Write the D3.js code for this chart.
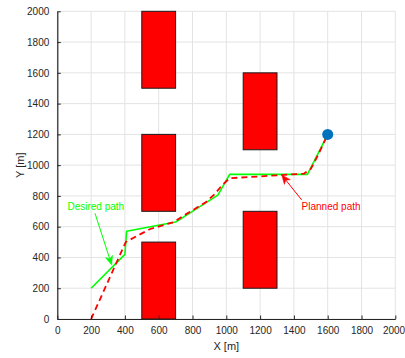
<!DOCTYPE html>
<html>
<head>
<meta charset="utf-8">
<script src="https://cdn.jsdelivr.net/npm/d3@7"></script>
<style>
  html, body { margin: 0; padding: 0; background: #ffffff; }
  svg { display: block; }
  text { font-family: "Liberation Sans", Arial, Helvetica, sans-serif; }
</style>
</head>
<body>
<script>
// Tick values for both axes
const xTicks = [0, 200, 400, 600, 800, 1000, 1200, 1400, 1600, 1800, 2000];
const yTicks = [0, 200, 400, 600, 800, 1000, 1200, 1400, 1600, 1800, 2000];

// Rectangular obstacles: [xMin, xMax, yMin, yMax] in metres
const obstacles = [
  [500, 700, 1500, 2000],
  [500, 700, 700, 1200],
  [500, 700, 0, 500],
  [1100, 1300, 1100, 1600],
  [1100, 1300, 200, 700]
];

// Desired path (green, solid)
const desiredX = [200, 400, 410, 700, 950, 1020, 1480, 1545, 1600];
const desiredY = [200, 420, 570, 630, 805, 940, 940, 1080, 1200];

// Planned path (red, dashed)
const plannedX = [200, 405, 480, 550, 690, 760, 880, 930, 975, 1020, 1320, 1460, 1500, 1545, 1600];
const plannedY = [0, 500, 545, 585, 630, 680, 760, 810, 870, 915, 935, 945, 975, 1070, 1200];

// Goal point
const goal = [1600, 1200];

// Annotations: label, label anchor, arrow tail, arrow tip (metres)
const annoLabels = ["Desired path", "Planned path"];
const annoColors = ["#00ff00", "#ff0000"];
const annoText = [[228, 728], [1620, 728]];
const annoTail = [[223, 687], [1446, 774]];
const annoTip = [[322, 351], [1328, 936]];

const W = 405, H = 358;
const svg = d3.select("body").append("svg").attr("width", W).attr("height", H);

const x = d3.scaleLinear().domain([0, 2000]).range([57.3, 395.3]);
const y = d3.scaleLinear().domain([0, 2000]).range([319, 11.3]);

const axisColor = "#262626";
const gridColor = "#e3e3e3";

// Grid
const grid = svg.append("g");
grid.selectAll("line.gx").data(xTicks).enter().append("line")
  .attr("x1", d => x(d)).attr("x2", d => x(d))
  .attr("y1", y(0)).attr("y2", y(2000))
  .attr("stroke", gridColor).attr("stroke-width", 1);
grid.selectAll("line.gy").data(yTicks).enter().append("line")
  .attr("x1", x(0)).attr("x2", x(2000))
  .attr("y1", d => y(d)).attr("y2", d => y(d))
  .attr("stroke", gridColor).attr("stroke-width", 1);

// Obstacles
svg.append("g").selectAll("rect").data(obstacles).enter().append("rect")
  .attr("x", d => x(d[0]))
  .attr("y", d => y(d[3]))
  .attr("width", d => x(d[1]) - x(d[0]))
  .attr("height", d => y(d[2]) - y(d[3]))
  .attr("fill", "#ff0000")
  .attr("stroke", "#1a1a1a")
  .attr("stroke-width", 1);

// Paths
const line = d3.line().x(d => x(d[0])).y(d => y(d[1]));
const desired = desiredX.map((v, i) => [v, desiredY[i]]);
const planned = plannedX.map((v, i) => [v, plannedY[i]]);

svg.append("path").datum(desired)
  .attr("d", line)
  .attr("fill", "none")
  .attr("stroke", "#00ff00")
  .attr("stroke-width", 1.6)
  .attr("stroke-linejoin", "round");

svg.append("path").datum(planned)
  .attr("d", line)
  .attr("fill", "none")
  .attr("stroke", "#ff0000")
  .attr("stroke-width", 1.8)
  .attr("stroke-dasharray", "6,4");

// Goal marker
svg.append("circle")
  .attr("cx", x(goal[0])).attr("cy", y(goal[1]))
  .attr("r", 5.5)
  .attr("fill", "#0072bd");

// Axes (left and bottom, ticks pointing inward)
const fmt = d3.format("d");
const xAxis = d3.axisBottom(x).tickValues(xTicks).tickFormat(fmt).tickSizeInner(-3.5).tickSizeOuter(0).tickPadding(8);
const yAxis = d3.axisLeft(y).tickValues(yTicks).tickFormat(fmt).tickSizeInner(-3.5).tickSizeOuter(0).tickPadding(8);

const gx = svg.append("g").attr("transform", `translate(0,${y(0)})`).call(xAxis);
const gy = svg.append("g").attr("transform", `translate(${x(0)},0)`).call(yAxis);
[gx, gy].forEach(g => {
  g.select(".domain").attr("stroke", axisColor).attr("stroke-width", 1.2);
  g.selectAll(".tick line").attr("stroke", axisColor);
  g.selectAll(".tick text").attr("fill", axisColor)
    .style("font-family", "'Liberation Sans', Arial, sans-serif")
    .style("font-size", "10px");
});
// keep the last x label inside the canvas
gx.selectAll(".tick text").filter(d => d === 2000).attr("dx", -1.8);

// Axis labels
svg.append("text")
  .attr("x", x(1000)).attr("y", 350)
  .attr("text-anchor", "middle")
  .attr("fill", axisColor)
  .style("font-size", "11px")
  .text("X [m]");
svg.append("text")
  .attr("transform", `translate(24,${y(1000)}) rotate(-90)`)
  .attr("text-anchor", "middle")
  .attr("fill", axisColor)
  .style("font-size", "11px")
  .text("Y [m]");

// Annotation arrows and labels
annoLabels.forEach((label, i) => {
  const c = annoColors[i];
  const x1 = x(annoTail[i][0]), y1 = y(annoTail[i][1]);
  const x2 = x(annoTip[i][0]), y2 = y(annoTip[i][1]);
  const ang = Math.atan2(y2 - y1, x2 - x1);
  const len = 9, half = 3.8, back = 6.5;
  const ux = Math.cos(ang), uy = Math.sin(ang);
  const px = -uy, py = ux;
  const bx = x2 - ux * len, by = y2 - uy * len;
  const nx = x2 - ux * back, ny = y2 - uy * back;
  svg.append("line")
    .attr("x1", x1).attr("y1", y1).attr("x2", nx).attr("y2", ny)
    .attr("stroke", c).attr("stroke-width", 1);
  svg.append("path")
    .attr("d", `M${x2},${y2}L${bx + px * half},${by + py * half}L${nx},${ny}L${bx - px * half},${by - py * half}Z`)
    .attr("fill", c).attr("stroke", c).attr("stroke-width", 0.5);
  svg.append("text")
    .attr("x", x(annoText[i][0])).attr("y", y(annoText[i][1]))
    .attr("dy", "0.35em")
    .attr("text-anchor", "middle")
    .attr("fill", c)
    .style("font-size", "10px")
    .text(label);
});
</script>
</body>
</html>
